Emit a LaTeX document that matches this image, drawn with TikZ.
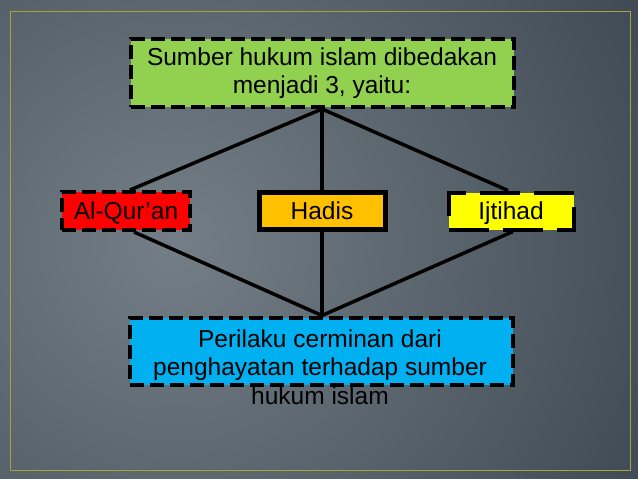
\documentclass[tikz,border=0pt]{standalone}
\usepackage{fontspec}
\setmainfont{Liberation Sans}
\usepackage{xcolor}
\usetikzlibrary{positioning}
\definecolor{bg light}{RGB}{116,126,134}
\definecolor{bg dark}{RGB}{24,35,47}
\definecolor{frame}{RGB}{168,162,62}
\definecolor{hijau}{HTML}{92D050}
\definecolor{merah}{HTML}{FF0000}
\definecolor{jingga}{HTML}{FFC000}
\definecolor{kuning}{HTML}{FFFF00}
\definecolor{biru}{HTML}{00B0F0}
\tikzstyle{dashed box}=[
        draw = black,
        line width = 4pt,
        dash pattern = on 14pt off 6pt,
        rectangle,
        inner sep = 0pt,
        align = center,
        font = \fontsize{24.5}{28.5}\selectfont
    ]
\tikzstyle{solid box}=[
        draw = black,
        line width = 5pt,
        rectangle,
        inner sep = 0pt,
        align = center,
        font = \fontsize{24.5}{28.5}\selectfont
    ]
\tikzstyle{long dashed box}=[
        draw = black,
        line width = 4pt,
        dash pattern = on 40pt off 14pt,
        rectangle,
        inner sep = 0pt,
        align = center,
        font = \fontsize{24.5}{28.5}\selectfont
    ]
\tikzstyle{small}=[
        text height = 17.5pt,
        text depth = 0pt
    ]

\begin{document}
\begin{tikzpicture}[x=1pt, y=-1pt, link/.style = {draw, line width=3.5pt}]
        \useasboundingbox (0,0) rectangle (638,479);
        \begin{scope}
            \clip (0,0) rectangle (638,479);
            \shade[inner color=bg light, outer color=bg dark] (175,245) circle (920);
        \end{scope}
        \draw[frame, line width=1pt] (10,11) rectangle (630,470);

        \node[dashed box, fill = hijau, minimum width = 383pt, minimum height = 68pt] (sumber) at (322,73) {Sumber hukum islam dibedakan\\menjadi 3, yaitu:};
        \node[dashed box, small, fill = merah, minimum width = 128pt, minimum height = 38pt] (quran) at (126,211) {Al-Qur’an};
        \node[solid box, small, fill = jingga, minimum width = 126pt, minimum height = 37pt] (hadis) at (322,211) {Hadis};
        \node[long dashed box, small, fill = kuning, minimum width = 125pt, minimum height = 37pt] (ijtihad) at (511,211) {Ijtihad};
        \node[dashed box, fill = biru, minimum width = 383pt, minimum height = 67pt] (perilaku) at (321,351) {};
        \node[align = center, font = \fontsize{24.5}{28.5}\selectfont, inner sep = 0pt] (perilakuteks) at (320,367) {Perilaku cerminan dari\\penghayatan terhadap sumber\\hukum islam};

        \draw[link] (sumber.south) -- ([xshift=4pt]quran.north);
        \draw[link] (sumber.south) -- (hadis.north);
        \draw[link] (sumber.south) -- ([xshift=-3pt]ijtihad.north);
        \draw[link] ([xshift=8pt]quran.south) -- ([xshift=1pt]perilaku.north);
        \draw[link] (hadis.south) -- ([xshift=1pt]perilaku.north);
        \draw[link] ([xshift=2pt]ijtihad.south) -- ([xshift=1pt]perilaku.north);

    \end{tikzpicture}
\end{document}
